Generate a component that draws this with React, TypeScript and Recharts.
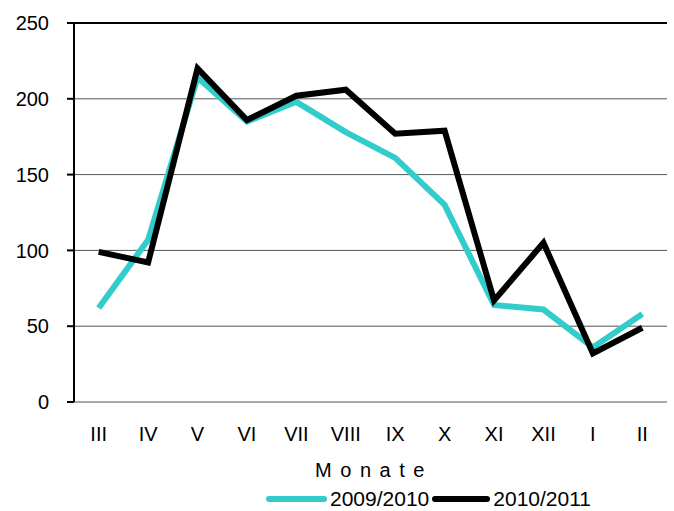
import { LineChart, Line, XAxis, YAxis, CartesianGrid, ReferenceLine, Legend } from "recharts";

const months = ["III", "IV", "V", "VI", "VII", "VIII", "IX", "X", "XI", "XII", "I", "II"];
const season0910 = [62, 107, 214, 185, 198, 178, 161, 130, 64, 61, 36, 58];
const season1011 = [99, 92, 220, 186, 202, 206, 177, 179, 67, 105, 32, 49];
const yTicks = [0, 50, 100, 150, 200, 250];
const bandTicks = [0, 1, 2, 3, 4, 5, 6, 7, 8, 9, 10, 11, 12];

const TEAL = "#33cccc";
const FONT = "'Liberation Sans', Arial, sans-serif";

const data = months.map((m, i) => ({
  month: m,
  pos: i + 0.5,
  a: season0910[i],
  b: season1011[i],
}));

// legend drawn by hand: long thick line swatches like the original
function LegendRow() {
  const item = (color: string, label: string, w: number) => (
    <span style={{ display: "inline-flex", alignItems: "center" }}>
      <span style={{ width: w, height: 6, borderRadius: 3, background: color, display: "inline-block", marginRight: 3 }} />
      <span>{label}</span>
    </span>
  );
  return (
    <div style={{ display: "flex", justifyContent: "flex-start", gap: 3, fontFamily: FONT, fontSize: 21, lineHeight: "24px", color: "#000", paddingLeft: 266 }}>
      {item(TEAL, "2009/2010", 61)}
      {item("#000", "2010/2011", 58)}
    </div>
  );
}

export default function App() {
  return (
    <div style={{ position: "absolute", left: 0, top: 0, background: "#fff" }}>
      <LineChart width={674} height={511} data={data} margin={{ top: 23, right: 7, bottom: 0, left: 0 }}>
        <CartesianGrid vertical={false} stroke="#555" yAxisId="left" />
        {/* boundary tick marks between the months */}
        <XAxis
          xAxisId="band"
          type="number"
          dataKey="pos"
          domain={[0, 12]}
          ticks={bandTicks}
          tick={false}
          tickSize={6}
          height={0}
          stroke="#000"
          strokeWidth={2}
          allowDataOverflow
        />
        <XAxis
          xAxisId="cat"
          dataKey="month"
          padding={{ left: 24.7, right: 24.7 }}
          axisLine={false}
          tickLine={false}
          tickSize={0}
          tickMargin={25}
          height={85}
          interval={0}
          tick={{ fontSize: 20, fill: "#000", fontFamily: FONT }}
          label={{ value: "M o n a t e", position: "insideBottom", offset: 10, style: { fontSize: 20, fill: "#000", fontFamily: FONT, letterSpacing: 1.5 } }}
        />
        <YAxis
          yAxisId="left"
          domain={[0, 250]}
          ticks={yTicks}
          width={74}
          tickSize={7}
          tickMargin={18}
          stroke="#000"
          strokeWidth={2}
          tick={{ fontSize: 20, fill: "#000", fontFamily: FONT }}
        />
        <YAxis yAxisId="right" orientation="right" width={0} tick={false} tickLine={false} stroke="#000" strokeWidth={2} />
        <ReferenceLine yAxisId="left" xAxisId="cat" y={250} stroke="#000" strokeWidth={2} />
        <Line
          xAxisId="cat"
          yAxisId="left"
          dataKey="a"
          name="2009/2010"
          stroke={TEAL}
          strokeWidth={6}
          dot={false}
          isAnimationActive={false}
        />
        <Line
          xAxisId="cat"
          yAxisId="left"
          dataKey="b"
          name="2010/2011"
          stroke="#000"
          strokeWidth={6}
          dot={false}
          isAnimationActive={false}
        />
        <Legend verticalAlign="bottom" height={24} wrapperStyle={{ left: 0, width: 674 }} content={() => <LegendRow />} />
      </LineChart>
    </div>
  );
}
